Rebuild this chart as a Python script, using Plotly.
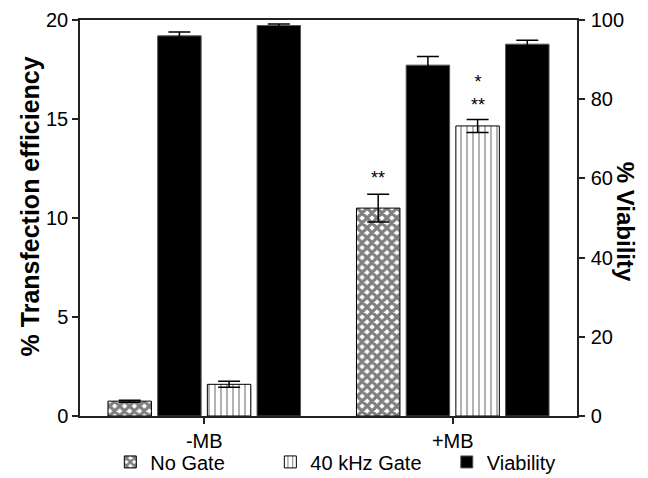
import plotly.graph_objects as go

categories = ["-MB", "+MB"]
no_gate = [0.75, 10.5]
no_gate_err = [0.05, 0.7]
gate_40k = [1.6, 14.65]
gate_40k_err = [0.15, 0.33]
viab_no_gate = [96.0, 88.6]
viab_no_gate_err = [1.0, 2.2]
viab_40k = [98.6, 93.9]
viab_40k_err = [0.4, 1.0]
sig_no_gate = ["", "**"]
sig_40k = ["", "*<br>**"]
left_title = "% Transfection efficiency"
right_title = "% Viability"

FONT = "Liberation Sans, Arial, sans-serif"
W = 0.175
offs = [-0.3875 + i * 0.2 for i in range(4)]

def err(arr):
    return dict(type="data", array=arr, visible=True, color="black", thickness=1.5, width=11)

fig = go.Figure()
fig.add_trace(go.Bar(
    x=categories, y=no_gate, name="No Gate", offset=offs[0], width=W,
    marker=dict(color="white", line=dict(color="black", width=1),
                pattern=dict(shape="x", fgcolor="black", bgcolor="white", size=7, solidity=0.7)),
    error_y=err(no_gate_err), showlegend=True, legend="legend"))
fig.add_trace(go.Bar(
    x=categories, y=viab_no_gate, name="Viability", offset=offs[1], width=W, yaxis="y2",
    marker=dict(color="black", line=dict(color="#555", width=1)),
    error_y=err(viab_no_gate_err), showlegend=True, legend="legend3"))
fig.add_trace(go.Bar(
    x=categories, y=gate_40k, name="40 kHz Gate", offset=offs[2], width=W,
    marker=dict(color="white", line=dict(color="black", width=1),
                pattern=dict(shape="|", fgcolor="black", bgcolor="white", size=6, solidity=0.2)),
    error_y=err(gate_40k_err), showlegend=True, legend="legend2"))
fig.add_trace(go.Bar(
    x=categories, y=viab_40k, name="Viability", offset=offs[3], width=W, yaxis="y2",
    marker=dict(color="black", line=dict(color="#555", width=1)),
    error_y=err(viab_40k_err), showlegend=False, legend="legend3"))

annotations = []
for i, c in enumerate(categories):
    if sig_no_gate[i]:
        annotations.append(dict(x=i + offs[0] + W / 2, y=no_gate[i] + no_gate_err[i], xref="x", yref="y",
                                text=sig_no_gate[i], showarrow=False, yanchor="bottom", yshift=4,
                                font=dict(family=FONT, size=18, color="black")))
    if sig_40k[i]:
        annotations.append(dict(x=i + offs[2] + W / 2, y=gate_40k[i] + gate_40k_err[i], xref="x", yref="y",
                                text=sig_40k[i], showarrow=False, yanchor="bottom", yshift=2,
                                font=dict(family=FONT, size=18, color="black")))

annotations.append(dict(text="<b>" + left_title + "</b>", xref="paper", yref="paper", x=-0.1, y=0.53,
                        textangle=-90, showarrow=False, xanchor="center", yanchor="middle",
                        font=dict(family=FONT, size=25, color="black")))
annotations.append(dict(text="<b>" + right_title + "</b>", xref="paper", yref="paper", x=1.097, y=0.49,
                        textangle=90, showarrow=False, xanchor="center", yanchor="middle",
                        font=dict(family=FONT, size=24, color="black")))

legend_common = dict(orientation="h", yanchor="middle", y=-0.116, xanchor="left",
                     font=dict(family=FONT, size=20, color="black"), bgcolor="rgba(0,0,0,0)",
                     borderwidth=0)

axis_line = dict(showline=True, linecolor="#222", linewidth=1.5, ticks="outside", ticklen=6,
                 tickwidth=1.5, tickcolor="#222", showgrid=False, zeroline=False)

fig.update_layout(
    width=640, height=470,
    margin=dict(l=72, r=71, t=12, b=62, autoexpand=False),
    plot_bgcolor="white", paper_bgcolor="white",
    font=dict(family=FONT, size=20, color="black"),
    barmode="overlay",
    showlegend=True,
    xaxis=dict(range=[-0.5, 1.5], mirror=True, tickfont=dict(size=20), **axis_line),
    yaxis=dict(range=[0, 20], dtick=5, tickfont=dict(size=20), **axis_line),
    yaxis2=dict(range=[0, 100], dtick=20, overlaying="y", side="right", tickfont=dict(size=20),
                ticklabelstandoff=2, **axis_line),
    legend=dict(x=0.061, **legend_common),
    legend2=dict(x=0.383, **legend_common),
    legend3=dict(x=0.738, **legend_common),
    annotations=annotations,
)

fig.write_html("out.html")
